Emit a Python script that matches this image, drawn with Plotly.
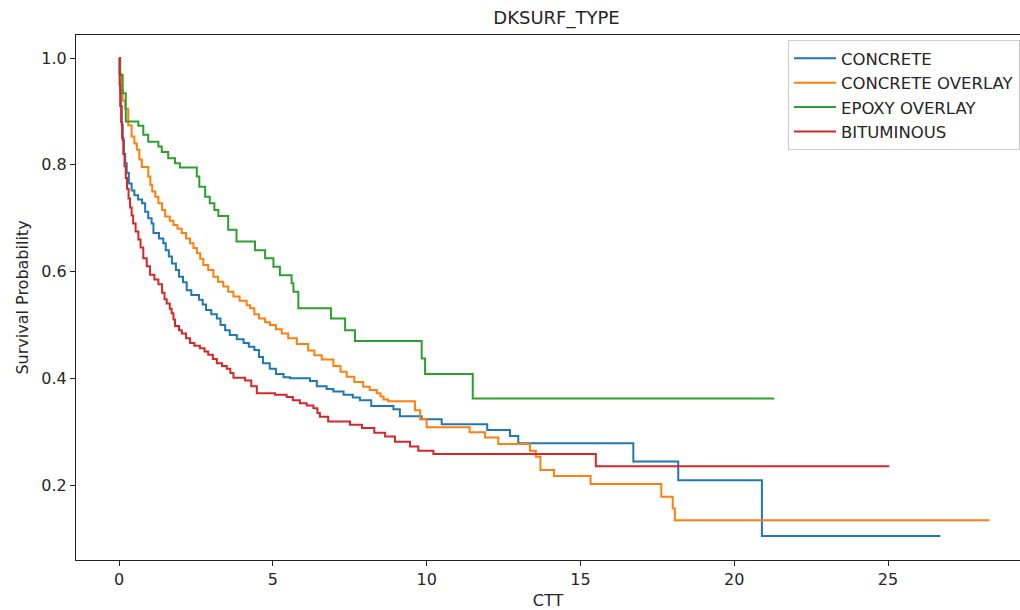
import plotly.graph_objects as go

# ---- data ----
series_names = ["CONCRETE", "CONCRETE OVERLAY", "EPOXY OVERLAY", "BITUMINOUS"]
series_colors = ["#1f77b4", "#ff7f0e", "#2ca02c", "#d62728"]

concrete_t = [0, 0.02, 0.04, 0.06, 0.09, 0.12, 0.16, 0.2, 0.25, 0.32, 0.41, 0.5, 0.62, 0.75, 0.85,
              0.95, 1.06, 1.12, 1.3, 1.44, 1.52, 1.62, 1.72, 1.85, 1.95, 2.08, 2.2, 2.35, 2.6, 2.72,
              2.83, 3.0, 3.18, 3.3, 3.45, 3.6, 3.83, 4.05, 4.22, 4.4, 4.55, 4.68, 4.9, 5.1, 5.35,
              5.56, 6.21, 6.43, 6.75, 6.97, 7.3, 7.6, 7.83, 8.2, 8.92, 9.13, 9.84, 10.49, 11.97,
              12.71, 12.98, 16.72, 18.18, 20.9, 26.7]
concrete_s = [1.0, 0.97, 0.94, 0.91, 0.875, 0.846, 0.82, 0.803, 0.785, 0.765, 0.752, 0.743, 0.735,
              0.728, 0.712, 0.70, 0.69, 0.672, 0.662, 0.653, 0.64, 0.628, 0.615, 0.603, 0.59, 0.58,
              0.565, 0.556, 0.547, 0.538, 0.528, 0.52, 0.512, 0.50, 0.49, 0.481, 0.473, 0.466,
              0.459, 0.453, 0.44, 0.428, 0.418, 0.408, 0.402, 0.40, 0.395, 0.385, 0.38, 0.375,
              0.369, 0.364, 0.359, 0.348, 0.342, 0.329, 0.323, 0.314, 0.303, 0.292, 0.278, 0.244,
              0.209, 0.1045, 0.1045]

overlay_t = [0, 0.03, 0.07, 0.12, 0.2, 0.3, 0.41, 0.5, 0.58, 0.66, 0.74, 0.95, 1.02, 1.08, 1.18,
             1.28, 1.4, 1.5, 1.65, 1.77, 1.9, 2.04, 2.18, 2.31, 2.42, 2.53, 2.64, 2.74, 2.9, 3.07,
             3.22, 3.39, 3.55, 3.72, 3.92, 4.15, 4.26, 4.4, 4.55, 4.75, 4.91, 5.1, 5.29, 5.5, 5.78,
             6.15, 6.35, 6.59, 6.97, 7.2, 7.4, 7.65, 7.94, 8.15, 8.38, 8.5, 8.6, 8.75, 9.62, 9.79,
             10.0, 11.4, 11.9, 12.33, 13.36, 13.55, 13.7, 14.14, 15.33, 17.63, 18.0, 18.07, 28.3]
overlay_s = [1.0, 0.97, 0.94, 0.92, 0.905, 0.874, 0.853, 0.84, 0.828, 0.81, 0.796, 0.778, 0.762,
             0.75, 0.74, 0.728, 0.715, 0.703, 0.695, 0.687, 0.68, 0.672, 0.662, 0.653, 0.644, 0.634,
             0.624, 0.612, 0.603, 0.59, 0.581, 0.572, 0.562, 0.553, 0.545, 0.537, 0.531, 0.52,
             0.512, 0.505, 0.50, 0.492, 0.484, 0.475, 0.464, 0.452, 0.443, 0.435, 0.423, 0.412,
             0.403, 0.393, 0.384, 0.378, 0.372, 0.366, 0.36, 0.357, 0.34, 0.323, 0.308, 0.299,
             0.289, 0.277, 0.264, 0.253, 0.228, 0.217, 0.202, 0.178, 0.156, 0.134, 0.134]

epoxy_t = [0, 0.04, 0.12, 0.22, 0.63, 0.79, 0.95, 1.28, 1.39, 1.6, 1.82, 1.98, 2.53, 2.61, 2.8,
           2.95, 3.1, 3.23, 3.55, 3.82, 4.42, 4.75, 5.02, 5.23, 5.61, 5.67, 5.83, 6.89, 7.35, 7.67,
           9.84, 9.95, 11.5, 21.3]
epoxy_s = [1.0, 0.968, 0.934, 0.881, 0.873, 0.856, 0.843, 0.834, 0.824, 0.812, 0.803, 0.795, 0.778,
           0.759, 0.74, 0.728, 0.715, 0.704, 0.678, 0.656, 0.64, 0.625, 0.609, 0.593, 0.578, 0.562,
           0.531, 0.512, 0.49, 0.47, 0.437, 0.408, 0.362, 0.362]

bitum_t = [0, 0.02, 0.04, 0.07, 0.1, 0.14, 0.18, 0.22, 0.26, 0.31, 0.36, 0.41, 0.46, 0.54, 0.63,
           0.7, 0.79, 0.9, 1.01, 1.15, 1.28, 1.4, 1.48, 1.55, 1.65, 1.71, 1.77, 1.82, 1.95, 2.04,
           2.18, 2.31, 2.45, 2.63, 2.78, 2.9, 3.05, 3.18, 3.35, 3.5, 3.62, 3.72, 4.1, 4.3, 4.48,
           5.07, 5.45, 5.65, 5.88, 6.1, 6.32, 6.45, 6.53, 6.8, 7.51, 7.9, 8.3, 8.65, 8.97, 9.46,
           9.73, 10.22, 15.5, 25.04]
bitum_s = [1.0, 0.95, 0.91, 0.88, 0.85, 0.82, 0.797, 0.775, 0.755, 0.737, 0.72, 0.705, 0.69, 0.675,
           0.66, 0.645, 0.625, 0.61, 0.594, 0.585, 0.576, 0.56, 0.548, 0.54, 0.53, 0.522, 0.51,
           0.498, 0.49, 0.484, 0.475, 0.466, 0.461, 0.456, 0.45, 0.444, 0.436, 0.428, 0.423, 0.418,
           0.41, 0.401, 0.396, 0.385, 0.372, 0.369, 0.365, 0.359, 0.353, 0.349, 0.344, 0.335,
           0.328, 0.319, 0.313, 0.307, 0.298, 0.291, 0.281, 0.272, 0.264, 0.258, 0.235, 0.235]

x_ticks = [0, 5, 10, 15, 20, 25]
y_ticks = [0.2, 0.4, 0.6, 0.8, 1.0]

series_t = [concrete_t, overlay_t, epoxy_t, bitum_t]
series_s = [concrete_s, overlay_s, epoxy_s, bitum_s]

FONT = "DejaVu Sans"
TXT = "#262626"

fig = go.Figure()
for name, col, t, s in zip(series_names, series_colors, series_t, series_s):
    fig.add_trace(go.Scatter(x=t, y=s, mode="lines", name=name, legendgroup=name,
                             line=dict(color=col, width=2, shape="hv")))

fig.update_layout(
    width=1020, height=610,
    margin=dict(l=76, r=0, t=35, b=50),
    paper_bgcolor="white", plot_bgcolor="white",
    font=dict(family=FONT, size=16, color=TXT),
    title=dict(text="DKSURF_TYPE", xref="paper", x=0.509, xanchor="center",
               yref="container", y=1 - 18 / 610, yanchor="middle",
               font=dict(family=FONT, size=18, color=TXT)),
    showlegend=True,
    legend=dict(x=1, xanchor="right", y=0.9905, yanchor="top",
                bgcolor="rgba(255,255,255,0.8)", bordercolor="#cccccc", borderwidth=1,
                font=dict(family=FONT, size=16.5, color=TXT), tracegroupgap=0,
                itemwidth=42),
)
fig.update_xaxes(range=[-1.398, 29.29], tickvals=x_ticks, showgrid=False, zeroline=False,
                 showline=True, linecolor="#222", linewidth=1, mirror=True,
                 ticks="outside", ticklen=5, tickcolor="#222", tickwidth=1,
                 title=dict(text="CTT", standoff=6, font=dict(family=FONT, size=16, color=TXT)))
fig.update_yaxes(range=[0.0595, 1.0431], tickvals=y_ticks, tickformat=".1f", showgrid=False,
                 zeroline=False, showline=True, linecolor="#222", linewidth=1, mirror=False,
                 ticks="outside", ticklen=5, tickcolor="#222", tickwidth=1,
                 title=dict(text="Survival Probability", standoff=8,
                            font=dict(family=FONT, size=16, color=TXT)))

fig.write_html("out.html")
